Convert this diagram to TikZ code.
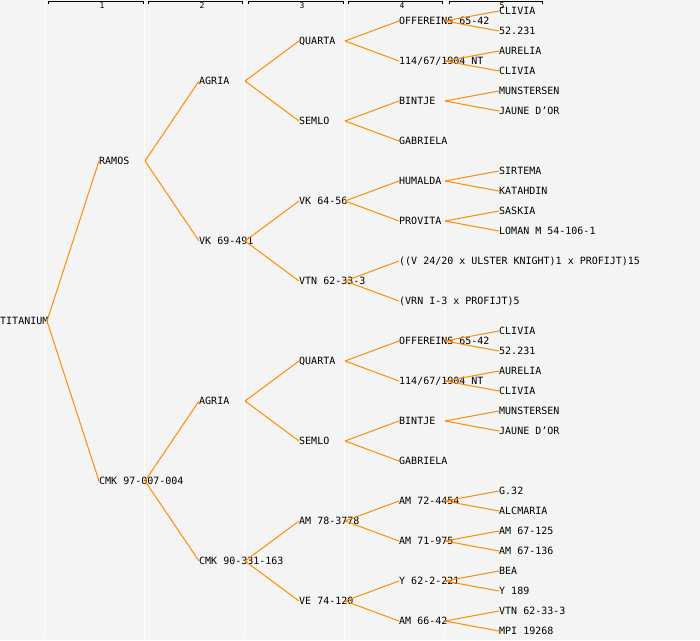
\documentclass[tikz,border=0pt]{standalone}
\usepackage{fontspec}
\newfontfamily\pedfont{DejaVu Sans Mono}
\definecolor{pedbg}{HTML}{F4F4F4}
\definecolor{pedline}{HTML}{FF8C00}

\begin{document}
\begin{tikzpicture}[x=1pt, y=-1pt,
        ped/.style={anchor=west, inner sep=0pt, text height=7.3pt, text depth=0pt,
            font=\pedfont\fontsize{10}{10}\selectfont},
        link/.style={draw=pedline, line width=1pt},
        sep/.style={draw=white, line width=1pt},
        gen/.style={inner sep=0pt, font=\pedfont\fontsize{8}{8}\selectfont},
        bracket/.style={draw=black, line width=1pt}]
        \useasboundingbox[fill=pedbg] (0,0) rectangle (700,640);
        % generation columns
        \draw[sep] (44.5,0) -- (44.5,638) (144.5,0) -- (144.5,638) (244.5,0) -- (244.5,638)
            (344.5,0) -- (344.5,638) (444.5,0) -- (444.5,638);
        \draw[bracket] (48,4) |- (143,1) -- (143,4);
        \draw[bracket] (148,4) |- (242,1) -- (242,4);
        \draw[bracket] (248,4) |- (343,1) -- (343,4);
        \draw[bracket] (348,4) |- (442,1) -- (442,4);
        \draw[bracket] (449,4) |- (542,1) -- (542,4);
        \node[gen] (g1) at (102,6) {1};
        \node[gen] (g2) at (202,6) {2};
        \node[gen] (g3) at (302,6) {3};
        \node[gen] (g4) at (402,6) {4};
        \node[gen] (g5) at (502,6) {5};

        % pedigree
        \node[ped] (p) at (0,321) {TITANIUM};

        \node[ped] (p1) at (99,161) {RAMOS};
        \node[ped] (p2) at (99,481) {CMK 97-007-004};

        \node[ped] (p11) at (199,81) {AGRIA};
        \node[ped] (p12) at (199,241) {VK 69-491};
        \node[ped] (p21) at (199,401) {AGRIA};
        \node[ped] (p22) at (199,561) {CMK 90-331-163};

        \node[ped] (p111) at (299,41) {QUARTA};
        \node[ped] (p112) at (299,121) {SEMLO};
        \node[ped] (p121) at (299,201) {VK 64-56};
        \node[ped] (p122) at (299,281) {VTN 62-33-3};
        \node[ped] (p211) at (299,361) {QUARTA};
        \node[ped] (p212) at (299,441) {SEMLO};
        \node[ped] (p221) at (299,521) {AM 78-3778};
        \node[ped] (p222) at (299,601) {VE 74-120};

        \node[ped] (p1111) at (399,21) {OFFEREINS 65-42};
        \node[ped] (p1112) at (399,61) {114/67/1904 NT};
        \node[ped] (p1121) at (399,101) {BINTJE};
        \node[ped] (p1122) at (399,141) {GABRIELA};
        \node[ped] (p1211) at (399,181) {HUMALDA};
        \node[ped] (p1212) at (399,221) {PROVITA};
        \node[ped] (p1221) at (399,261) {((V 24/20 x ULSTER KNIGHT)1 x PROFIJT)15};
        \node[ped] (p1222) at (399,301) {(VRN I-3 x PROFIJT)5};
        \node[ped] (p2111) at (399,341) {OFFEREINS 65-42};
        \node[ped] (p2112) at (399,381) {114/67/1904 NT};
        \node[ped] (p2121) at (399,421) {BINTJE};
        \node[ped] (p2122) at (399,461) {GABRIELA};
        \node[ped] (p2211) at (399,501) {AM 72-4454};
        \node[ped] (p2212) at (399,541) {AM 71-975};
        \node[ped] (p2221) at (399,581) {Y 62-2-221};
        \node[ped] (p2222) at (399,621) {AM 66-42};

        \node[ped] (p11111) at (499,11) {CLIVIA};
        \node[ped] (p11112) at (499,31) {52.231};
        \node[ped] (p11121) at (499,51) {AURELIA};
        \node[ped] (p11122) at (499,71) {CLIVIA};
        \node[ped] (p11211) at (499,91) {MUNSTERSEN};
        \node[ped] (p11212) at (499,111) {JAUNE D’OR};
        \node[ped] (p12111) at (499,171) {SIRTEMA};
        \node[ped] (p12112) at (499,191) {KATAHDIN};
        \node[ped] (p12121) at (499,211) {SASKIA};
        \node[ped] (p12122) at (499,231) {LOMAN M 54-106-1};
        \node[ped] (p21111) at (499,331) {CLIVIA};
        \node[ped] (p21112) at (499,351) {52.231};
        \node[ped] (p21121) at (499,371) {AURELIA};
        \node[ped] (p21122) at (499,391) {CLIVIA};
        \node[ped] (p21211) at (499,411) {MUNSTERSEN};
        \node[ped] (p21212) at (499,431) {JAUNE D’OR};
        \node[ped] (p22111) at (499,491) {G.32};
        \node[ped] (p22112) at (499,511) {ALCMARIA};
        \node[ped] (p22121) at (499,531) {AM 67-125};
        \node[ped] (p22122) at (499,551) {AM 67-136};
        \node[ped] (p22211) at (499,571) {BEA};
        \node[ped] (p22212) at (499,591) {Y 189};
        \node[ped] (p22221) at (499,611) {VTN 62-33-3};
        \node[ped] (p22222) at (499,631) {MPI 19268};

        % parent links
        \path ([xshift=47pt]p.west) edge[link] (p1.west) edge[link] (p2.west);
        \path ([xshift=46pt]p1.west) edge[link] (p11.west) edge[link] (p12.west);
        \path ([xshift=46pt]p2.west) edge[link] (p21.west) edge[link] (p22.west);
        \path ([xshift=46pt]p11.west) edge[link] (p111.west) edge[link] (p112.west);
        \path ([xshift=46pt]p12.west) edge[link] (p121.west) edge[link] (p122.west);
        \path ([xshift=46pt]p21.west) edge[link] (p211.west) edge[link] (p212.west);
        \path ([xshift=46pt]p22.west) edge[link] (p221.west) edge[link] (p222.west);
        \path ([xshift=46pt]p111.west) edge[link] (p1111.west) edge[link] (p1112.west);
        \path ([xshift=46pt]p112.west) edge[link] (p1121.west) edge[link] (p1122.west);
        \path ([xshift=46pt]p121.west) edge[link] (p1211.west) edge[link] (p1212.west);
        \path ([xshift=46pt]p122.west) edge[link] (p1221.west) edge[link] (p1222.west);
        \path ([xshift=46pt]p211.west) edge[link] (p2111.west) edge[link] (p2112.west);
        \path ([xshift=46pt]p212.west) edge[link] (p2121.west) edge[link] (p2122.west);
        \path ([xshift=46pt]p221.west) edge[link] (p2211.west) edge[link] (p2212.west);
        \path ([xshift=46pt]p222.west) edge[link] (p2221.west) edge[link] (p2222.west);
        \path ([xshift=46pt]p1111.west) edge[link] (p11111.west) edge[link] (p11112.west);
        \path ([xshift=46pt]p1112.west) edge[link] (p11121.west) edge[link] (p11122.west);
        \path ([xshift=46pt]p1121.west) edge[link] (p11211.west) edge[link] (p11212.west);
        \path ([xshift=46pt]p1211.west) edge[link] (p12111.west) edge[link] (p12112.west);
        \path ([xshift=46pt]p1212.west) edge[link] (p12121.west) edge[link] (p12122.west);
        \path ([xshift=46pt]p2111.west) edge[link] (p21111.west) edge[link] (p21112.west);
        \path ([xshift=46pt]p2112.west) edge[link] (p21121.west) edge[link] (p21122.west);
        \path ([xshift=46pt]p2121.west) edge[link] (p21211.west) edge[link] (p21212.west);
        \path ([xshift=46pt]p2211.west) edge[link] (p22111.west) edge[link] (p22112.west);
        \path ([xshift=46pt]p2212.west) edge[link] (p22121.west) edge[link] (p22122.west);
        \path ([xshift=46pt]p2221.west) edge[link] (p22211.west) edge[link] (p22212.west);
        \path ([xshift=46pt]p2222.west) edge[link] (p22221.west) edge[link] (p22222.west);
\end{tikzpicture}
\end{document}
